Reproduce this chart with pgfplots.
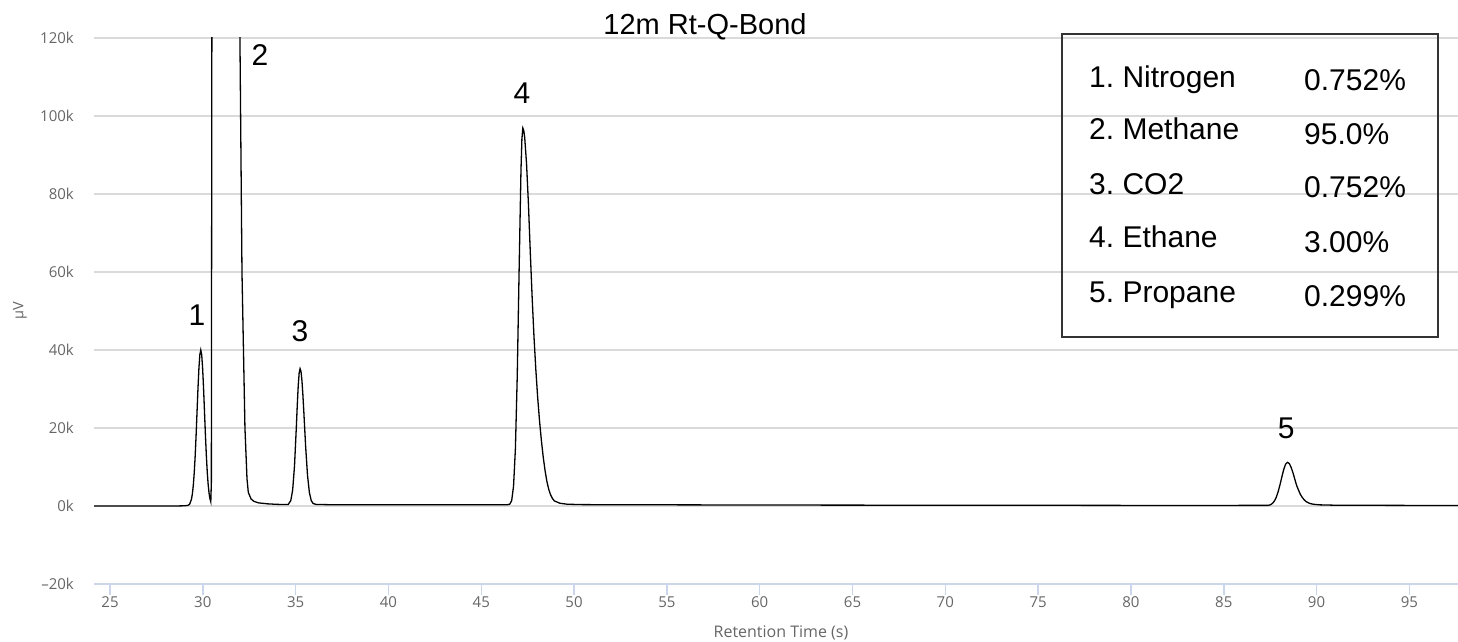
\documentclass[border=0pt]{standalone}
\usepackage{fontspec}
\setmainfont{Liberation Sans}
\newfontfamily\axfont{Open Sans}
\usepackage{pgfplots}
\pgfplotsset{compat=1.18}
\definecolor{tickgray}{HTML}{666666}
\definecolor{gridgray}{HTML}{DADADA}
\definecolor{axisblue}{HTML}{CCD6EB}
\frenchspacing
\begin{document}
\begin{tikzpicture}
\path[use as bounding box] (0pt,0pt) rectangle (1458pt,642pt);
\begin{axis}[
  at={(94pt,58pt)}, anchor=south west,
  scale only axis, width=1364pt, height=546pt,
  xmin=24.138, xmax=97.62, ymin=-20000, ymax=120000,
  axis lines*=left,
  y axis line style={draw=none},
  x axis line style={draw=axisblue, line width=1.5pt},
  xtick={25,30,...,95},
  xticklabels={25,30,35,40,45,50,55,60,65,70,75,80,85,90,95},
  ytick={-20000,0,20000,40000,60000,80000,100000,120000},
  yticklabels={–20k,0k,20k,40k,60k,80k,100k,120k},
  scaled y ticks=false,
  ymajorgrids, grid style={draw=gridgray, line width=1.5pt},
  tick align=outside, major tick length=11pt,
  xtick style={draw=axisblue, line width=1.5pt},
  ytick style={draw=none},
  tick label style={font=\axfont\fontsize{15}{18}\selectfont, text=tickgray},
  xticklabel style={inner sep=0pt, anchor=north, text height=11pt, text depth=0pt, yshift=-1pt},
  yticklabel style={inner sep=0pt, xshift=-9pt},
]
\addplot[black, line width=1.3pt] coordinates {
(24.14,0) (28.5,0) (29.0,50) (29.19,150) (29.29,440) (29.39,1760) (29.44,3180) (29.49,5410)
(29.54,8660) (29.59,12990) (29.64,18300) (29.69,24260) (29.74,30200) (29.79,35300)
(29.84,38770) (29.89,40000) (29.94,38770) (29.99,35300) (30.04,30200) (30.09,24260)
(30.14,18300) (30.19,12990) (30.24,8660) (30.29,5410) (30.34,3180) (30.39,1760) (30.43,1100)
(30.46,6000) (30.49,130000) (31.20,600000) (32.00,120000) (32.11,60000) (32.27,20000)
(32.38,7000) (32.45,3500) (32.60,1800) (32.75,1200) (33.00,800) (33.50,550) (34.00,420)
(34.40,380) (34.60,380) (34.74,1400) (34.84,4100) (34.94,10300) (35.04,20400) (35.09,26000)
(35.14,30800) (35.19,34100) (35.24,35200) (35.29,34500) (35.34,32200) (35.39,28600)
(35.44,24300) (35.54,15200) (35.64,7900) (35.74,3500) (35.84,1400) (35.94,650) (36.10,400)
(37.0,320) (40.0,300) (44.0,300) (46.40,300) (46.54,500) (46.64,1400) (46.74,5100)
(46.84,14700) (46.94,33500) (47.04,60500) (47.14,86100) (47.19,94100) (47.24,96900)
(47.29,96300) (47.34,94500) (47.44,87800) (47.54,77600) (47.64,65300) (47.74,53700)
(47.84,43500) (47.94,35000) (48.04,27800) (48.14,21800) (48.24,16800) (48.34,12500)
(48.44,9000) (48.54,6200) (48.64,4200) (48.74,2800) (48.84,1900) (48.94,1300) (49.24,700) (49.64,450)
(50.5,350) (55.0,300) (60.0,250) (65.0,220) (70.0,200) (75.0,180) (80.0,150) (85.0,150)
(87.40,160) (87.53,350) (87.63,700) (87.73,1300) (87.83,2250) (87.93,3650) (88.03,5450)
(88.13,7450) (88.23,9350) (88.33,10700) (88.43,11200) (88.53,10900) (88.63,9900)
(88.73,8500) (88.83,6850) (88.93,5200) (89.03,4050) (89.13,2950) (89.23,2200) (89.33,1600)
(89.43,1150) (89.63,650) (89.83,450) (90.13,300) (91.0,200) (95.0,150) (97.62,120)
};
\begin{scope}[every node/.style={font=\fontsize{30}{36}\selectfont, inner sep=0pt}]
\node at (axis cs:29.69,48970) {1};
\node at (axis cs:33.08,115640) {2};
\node at (axis cs:35.24,44870) {3};
\node at (axis cs:47.20,105900) {4};
\node at (axis cs:88.36,20000) {5};
\end{scope}
\end{axis}
\node[rotate=90, font=\axfont\fontsize{14.5}{17}\selectfont, text=tickgray] at (20pt,331pt) {μV};
\node[font=\axfont\fontsize{16}{19}\selectfont, text=tickgray] at (781pt,9pt) {Retention Time (s)};
\node[anchor=base, font=\fontsize{29}{34}\selectfont] at (705pt,607pt) {12m Rt-Q-Bond};
\draw[line width=1.2pt, draw=black!80] (1062pt,305pt) rectangle (1438pt,608pt);
\begin{scope}[every node/.style={font=\fontsize{30}{36}\selectfont, inner sep=0pt, anchor=base west}]
\node at (1089pt,554pt) {1. Nitrogen};
\node at (1089pt,502pt) {2. Methane};
\node at (1089pt,447pt) {3. CO2};
\node at (1089pt,394pt) {4. Ethane};
\node at (1089pt,339pt) {5. Propane};
\node at (1304pt,551pt) {0.752\%};
\node at (1304pt,497pt) {95.0\%};
\node at (1304pt,444pt) {0.752\%};
\node at (1304pt,389pt) {3.00\%};
\node at (1304pt,335pt) {0.299\%};
\end{scope}
\end{tikzpicture}
\end{document}
